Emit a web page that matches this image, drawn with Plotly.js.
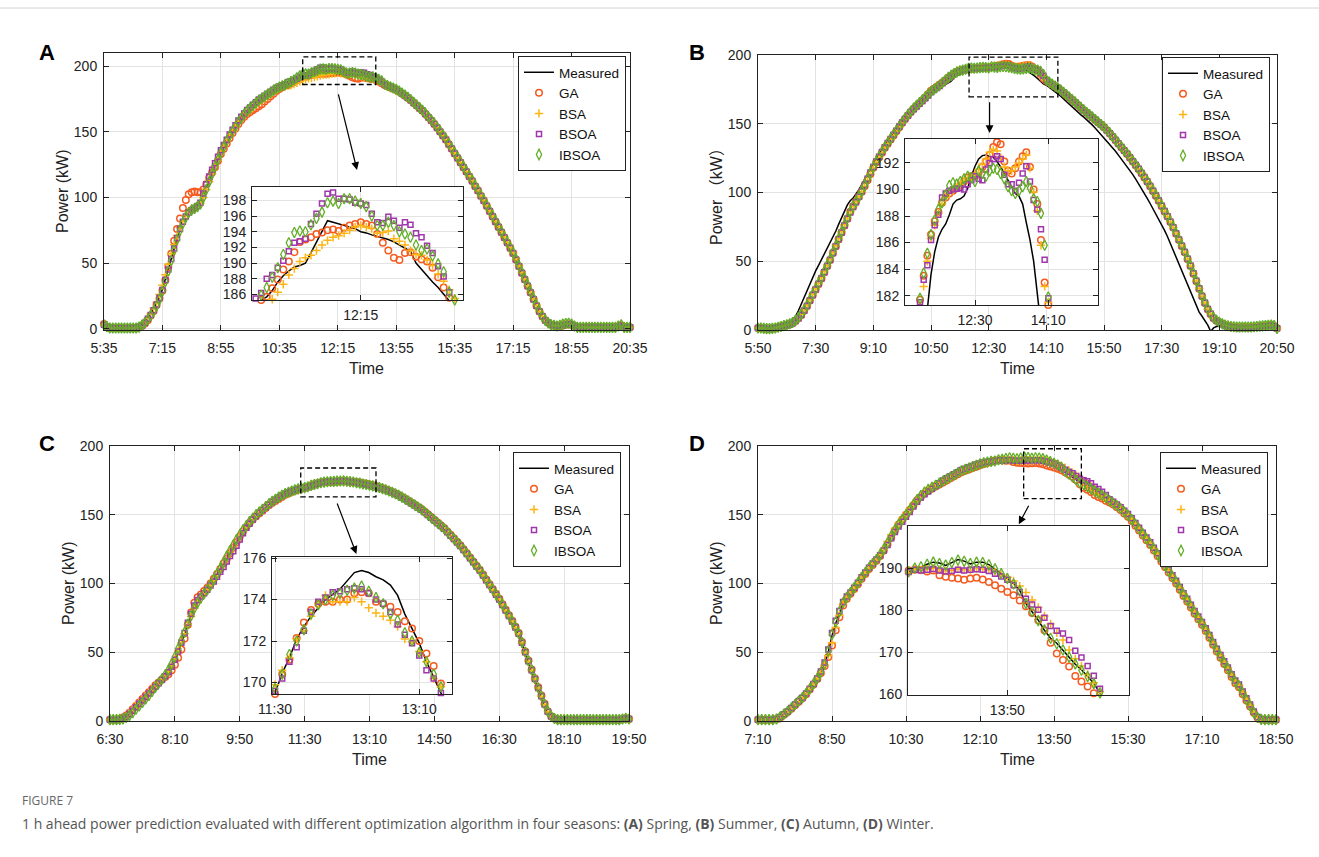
<!DOCTYPE html>
<html><head><meta charset="utf-8">
<script src="https://cdn.plot.ly/plotly-3.0.1.min.js"></script>
<style>html,body{margin:0;padding:0;background:#fff;}#chart{width:1319px;height:857px;}</style>
</head><body><div id="chart"></div>
<script>
// ---------- DATA (5-min samples) ----------
const A_start = '5:35', B_start = '5:50', C_start = '6:30', D_start = '7:10';
const A_ticks = ['5:35','7:15','8:55','10:35','12:15','13:55','15:35','17:15','18:55','20:35'];
const B_ticks = ['5:50','7:30','9:10','10:50','12:30','14:10','15:50','17:30','19:10','20:50'];
const C_ticks = ['6:30','8:10','9:50','11:30','13:10','14:50','16:30','18:10','19:50'];
const D_ticks = ['7:10','8:50','10:30','12:10','13:50','15:30','17:10','18:50'];
const A_insetTicks = ['12:15'];
const B_insetTicks = ['12:30','14:10'];
const C_insetTicks = ['11:30','13:10'];
const D_insetTicks = ['13:50'];
const main_yTicks = [0,50,100,150,200];
const A_inset_yTicks = [186,188,190,192,194,196,198];
const B_inset_yTicks = [182,184,186,188,190,192];
const C_inset_yTicks = [170,172,174,176];
const D_inset_yTicks = [160,170,180,190];

const A_meas = [3,1.5,0.5,0.5,0.5,0.5,0.5,0.5,0.5,0.5,
0.5,0.5,1.5,3,5,8,11,15,19,24,
30,38,46,54,62,70,78,84,88,91,
92,93,95,97,102,108,114,119,124,129,
134,138,142,146,150,153,157,160,163,165,
167,169,171,173,174.5,176,177.5,179,180.5,182,
183.5,184.5,185.3,185.7,186.5,187.6,188.4,189,189.5,189.7,
190,191.3,192.7,194,195.4,195.2,195,194.8,194.6,194.4,
194,193.85,193.6,193.4,193.2,193,192.7,192.3,192,191.5,
190,189.2,188.3,187.6,186.9,186.1,185.4,184.5,183.5,182.5,
181.5,180,178.5,177,175.5,173.5,171.5,169.5,167.5,165.5,
163,160.5,158,155.5,152.5,149.5,146.5,143.5,140,136.5,
133,129.5,126,122.5,119,115.5,112,108,104.5,100.5,
97,93,89,85,81,77,73,69,65,61,
57,52,47,42,37,32,27,22,17,12.5,
9,6,4,3,2.5,2,2,2.5,3,3.5,
3,2,1,1,1,1,1,1,1,1,
1,1,1,1,1,1,2,3,1,1,1];
const A_GA = [3.5,1.5,0.8,0.5,0.5,0.5,0.5,0.5,0.5,0.5,
0.5,0.5,1,2,4,6.5,10,13.5,18,23,
29,37,47,57,67,76,84,92,98,102.5,
104,104.5,104,104,106,110,115,119,123,128,
133,137,141,145,149,152.5,156,159,161.5,163.5,
165,166.5,168,169.5,171,173,175,177,179,181,
182.5,184,185.3,185.7,186.8,187.9,189.2,190.2,191.4,192.7,
193,193.3,193.7,193.9,194.2,194.3,194.1,194.5,194.8,195,
195.2,195,194.8,193.7,192.6,191.6,190.7,190.4,191.3,191.4,
190.8,190.5,190.2,189.4,188.2,186.9,185.6,184.6,183.8,182.8,
181.8,180.5,179,177.5,175.8,174,172,170,168,166,
163.5,161,158.5,156,153,150,147,144,140.5,137,
133.5,130,126.5,123,119.5,116,112.5,108.5,105,101,
97.5,93.5,89.5,85.5,81.5,77.5,73.5,69.5,65.5,61.5,
57.5,52.5,47.5,42.5,37.5,32.5,27.5,22.5,17.5,13,
9.5,6.5,4.5,3,2.5,2,2,2.5,3,3.5,
3,2,1,1,1,1,1,1,1,1,
1,1,1,1,1,1,1.5,2.5,1,1,1];
const A_BSA = [3,1.5,0.5,0.5,0.5,0.5,0.5,0.5,0.5,0.5,
0.5,0.5,1.5,3,5,8,11.5,15.5,20,26,
33,41,49,57,64,71,77,82,86,89,
91,92,93.5,95.5,100,106,112,118,123.5,128.5,
133.5,138,142,146,150,153.5,157,160,162.5,164.5,
166.5,168.5,170.5,172.5,174,175.5,177,178.5,180,181.5,
183,184,184.8,185,185.4,186.3,187.3,188.5,189.3,190.2,
190.7,191,191.6,192.3,192.9,193.3,193.5,193.8,194.2,194.6,
194.8,194.6,194.4,193.8,193.9,194.1,193.1,192.8,192.3,191.6,
191.1,191,190.4,189.7,188.6,187.7,186.6,185.5,184.4,183.3,
182.2,180.8,179.3,177.8,176.2,174.3,172.3,170.3,168.3,166.3,
163.8,161.3,158.8,156.3,153.3,150.3,147.3,144.3,140.8,137.3,
133.8,130.3,126.8,123.3,119.8,116.3,112.8,108.8,105.3,101.3,
97.8,93.8,89.8,85.8,81.8,77.8,73.8,69.8,65.8,61.8,
57.8,52.8,47.8,42.8,37.8,32.8,27.8,22.8,17.8,13.3,
9.5,6.5,4.5,3.2,2.5,2,2,2.5,3,3.5,
3,2,1,1,1,1,1,1,1,1,
1,1,1,1,1,1,1.5,2.5,1,1,1];
const A_BSOA = [3,1.5,0.5,0.5,0.5,0.5,0.5,0.5,0.5,0.5,
0.5,0.5,1.5,2.5,4.5,7.5,10.5,14,18.5,23.5,
29.5,37,45,53,61,69,76,81.5,85.5,88.5,
90.5,92,93.5,96,103,110,116,121,126,131,
136,140,144,148,151.5,155,158.5,161.5,164,166.5,
168.5,170.5,172.5,174.5,176,177.5,179,180.5,182,183.5,
184.5,185.5,186.2,188,188.5,189.4,190.3,191.5,192.6,192.8,
193.1,195,196.3,197.6,198.85,199,198.2,198.2,198.1,197.7,
197.6,197.4,196.3,195.2,195.1,195.9,195.4,194.5,195.2,194.9,
193.8,193.3,192.2,191.3,189.6,188.3,186.3,185.2,184.2,183.2,
182.2,180.8,179.3,177.6,176,174,172,170,168,166,
163.5,161,158.5,156,153,150,147,144,140.5,137,
133.5,130,126.5,123,119.5,116,112.5,108.5,105,101,
97.5,93.5,89.5,85.5,81.5,77.5,73.5,69.5,65.5,61.5,
57.5,52.5,47.5,42.5,37.5,32.5,27.5,22.5,17.5,13,
9.5,6.5,4.5,3,2.5,2,2,2.5,3,3.5,
3,2,1,1,1,1,1,1,1,1,
1,1,1,1,1,1,1.5,2.5,1,1,1];
const A_IBSOA = [3,1.5,0.5,0.5,0.5,0.5,0.5,0.5,0.5,0.5,
0.5,0.5,1.2,2.5,4.5,7,10,13.5,17.5,22.5,
28.5,36,44,52,60,68,75,80.5,85,88.5,
90.5,91.5,93,95,100,106,112,118,123.5,129,
134,138.5,143,147,150.5,154,157.5,160.5,163.5,166,
168,170,172,174,175.5,177,178.5,180,181.5,183,
184,185,185.9,186.9,188.2,189.4,191.1,192.6,193.9,194.1,
194,194.9,195.7,196.5,197.7,197.9,197.6,198.2,198.2,197.9,
197.6,197.2,196,194.8,194.8,195.2,194.8,194,193.7,193.3,
192.3,191.6,191.8,190.9,189.9,188.9,186.3,185.3,184.3,183.3,
182.3,181,179.5,178,176.3,174.4,172.4,170.4,168.4,166.4,
164,161.5,159,156.5,153.5,150.5,147.5,144.5,141,137.5,
134,130.5,127,123.5,120,116.5,113,109,105.5,101.5,
98,94,90,86,82,78,74,70,66,62,
58,53,48,43,38,33,28,23,18,13.5,
9.5,6.5,4.5,3,2.5,2,2.5,3.5,4,4.2,
3.5,2,1,1,1,1,1,1,1,1,
1,1,1,1,1,1,2,3,1,1,1];

const B_meas = [1.5,1.5,1.2,1,1,1.2,1.5,2,2.5,3.5,
4.5,5.5,7.5,10,14,19,24,29,34,39,
43,47,51,55,59,63,68,72,77,82,
87,91,94,96,99,102,106,110,114,118,
122,125,128,131,134,137,140,143,146,149,
152,154.5,157,159,161,163,165,167,169,170.5,
172,173.5,175,176.5,177.5,178.5,179.5,181,183.6,185.3,
186.4,187,187.4,188.1,188.9,189.2,189.3,189.5,190.1,191,
191.75,192.3,192.55,192.6,192.5,192.4,192.1,191.7,191.2,190.7,
190.2,189.7,189.5,188.9,187.5,186.2,184.6,182.8,180.5,179,
178,176.5,175,173.5,171.5,170,168,166,164,162,
160,158.2,156.5,154.8,153,151,149,146.8,144.5,142.2,
140,137.5,135,132.5,130,127.2,124.5,121.8,119,116,
113,109.8,106.5,103,99.5,95.8,92,88.2,84.5,80.8,
77,72.5,68,63,58,52.5,47,42,37,32,
27,22,17,13,10,7,3.5,-1,1.5,2.5,
3,3,3,2.8,2.6,2.5,2.5,2.5,2.5,2.5,
2.5,2.5,2.5,2.5,2.5,3,3,3,3.5,3,1.2];
const B_GA = [1.5,1.5,1.2,1,1,1.2,1.5,2,2.5,3,
3.5,4,5,6.5,8.5,11,14,17.5,21.5,25.5,
29.5,33.5,37.5,42,46.5,51,56,61,66,71,
76,81,86,90,93.5,97,100.5,104.5,109,113.5,
118,122,125.5,129,132.5,135.5,138.5,141.5,144.5,147.5,
150.5,153.5,156,158.5,161,163,165,167,169,171.5,
174,175.5,177,178.5,180,181.7,183.5,185,186.6,187.6,
188.3,189,189.4,189.7,189.9,190.1,190.3,190.6,190.9,191,
191,191.3,191.7,192.1,192.6,193.2,193.55,193.4,192.1,191.4,
191.2,191.6,192.1,192.5,192.8,191.7,190,188.9,186.2,183,
181.3,180,178.5,177.3,176,174.3,172.5,170.8,169,167.2,
165.5,163.5,161.5,159.8,158,156.2,154.5,152.8,151,149.2,
147.5,145.2,143,140.5,138,135.5,133,130.5,128,125.2,
122.5,119.8,117,114,111,107.8,104.5,101,97.5,93.8,
90,86.2,82.5,78.5,74.5,70,65.5,61,56.5,51.5,
46.5,41,35.5,30,24.5,19.5,15,11.5,8.5,6.8,
5.5,4.5,3.5,3,2.5,2.2,2,2,2,2,
2,2,2.2,2.5,2.5,2.8,3,3.2,3.5,3,1.2];
const B_BSA = [1.5,1.5,1.2,1,1,1.2,1.5,2,2.5,3,
3.5,4.2,5.2,6.8,9,11.5,14.5,18,22,26,
30,34,38,42.5,47,51.5,56.5,61.5,66.5,71.5,
76.5,81.5,86,90,93.5,97,100.5,104.5,109,113.5,
118,122,125.5,129,132.5,135.5,138.5,141.5,144.5,147.5,
150.5,153.5,156,158.5,161,163,165,167,169,171,
173.5,175,176.5,178,179.5,181,182.7,184.6,186.3,187.3,
188.2,188.9,189.4,189.7,189.9,190.1,190.4,190.6,190.8,190.9,
191.1,191.5,191.9,192.3,192.8,193,192.9,192.4,191.7,191.4,
191.4,191.7,192,192.3,192.6,191.6,189.8,188.4,185.8,182.7,
181.5,180,178.6,177.4,176,174.4,172.6,170.9,169.1,167.3,
165.5,163.6,161.6,159.8,158,156.3,154.6,152.9,151.1,149.3,
147.5,145.3,143.1,140.6,138.1,135.6,133.1,130.6,128.1,125.3,
122.6,119.9,117.1,114.1,111.1,107.9,104.6,101.1,97.6,93.9,
90.1,86.3,82.6,78.6,74.6,70.1,65.6,61.1,56.6,51.6,
46.6,41.1,35.6,30.1,24.6,19.6,15.1,11.6,8.6,6.9,
5.5,4.5,3.5,3,2.5,2.2,2,2,2,2,
2,2,2.2,2.5,2.5,2.8,3,3.2,3.5,3,1.2];
const B_BSOA = [1.5,1.5,1.2,1,1,1.2,1.5,2,2.5,3,
3.5,4,5,6.5,8.5,11,14,17.5,21.5,25.5,
29.5,33.5,37.5,42,46.5,51,56,61,66,71,
76,81,85.5,89.5,93,97,101,105.5,110,114.5,
118.5,122.5,126,129.5,133,136,139,142,145,148,
151,153.5,156,158.5,160.5,162.5,164.5,166.5,168.5,170.5,
173,174.5,176,177.5,179.5,181.5,183.2,184.3,186.2,187.3,
188.1,189.4,189.7,189.9,190,190.05,190.1,190,190.4,190.7,
191,190.8,190.7,191.5,192,192.3,192.5,192.3,191.1,190.4,
190.4,189.9,190.5,191.2,191.75,190.6,189.2,188.5,187,184.7,
181.8,180.2,178.8,177.4,176,174.3,172.6,170.9,169.1,167.3,
165.5,163.6,161.6,159.8,158,156.3,154.6,152.9,151.1,149.3,
147.5,145.3,143.1,140.6,138.1,135.6,133.1,130.6,128.1,125.5,
122.8,120,117.2,114.2,111.2,108,104.8,101.3,97.8,94.2,
90.4,86.6,82.8,78.8,74.8,70.3,65.8,61.3,56.8,51.8,
46.8,41.3,35.8,30.3,24.8,19.8,15.3,11.8,8.8,7,
5.5,4.2,3,2.5,2,1.8,1.5,1.5,1.5,1.5,
1.5,1.5,1.8,2,2.2,2.5,2.8,3,3.2,2.8,1.2];
const B_IBSOA = [1.5,1.5,1.2,1,1,1.2,1.5,2,2.5,3.2,
3.8,4.5,5.5,7,9,11.5,14.5,18,22,26,
30,34,38,42.5,47,51.5,56.5,61.5,66.5,71.5,
76.5,81.5,86,90,93.5,97,101,105,109.5,114,
118.5,122.5,126,129.5,133,136,139,142,145,148,
151,154,156.5,159,161.5,163.5,165.5,167.5,169.5,171.5,
173.5,175,176.5,178,180,181.8,183.7,185.2,186.6,187.7,
188.5,189,189.6,190.3,190.5,190.4,190.6,190.8,191,190.9,
190.6,191.4,191.2,191,191.4,191.6,191.5,191.2,190.8,190.2,
189.9,189.7,189.9,190.2,190.6,190.1,189.3,189.1,188.2,185.8,
181.9,180.3,178.9,177.5,176.1,174.5,172.8,171.1,169.3,167.5,
165.7,163.8,161.8,160,158.2,156.5,154.8,153.1,151.3,149.5,
147.7,145.5,143.3,140.8,138.3,135.8,133.3,130.8,128.3,125.6,
122.9,120.2,117.4,114.4,111.4,108.2,104.9,101.4,97.9,94.2,
90.4,86.6,82.9,78.9,74.9,70.4,65.9,61.4,56.9,51.9,
46.9,41.4,35.9,30.4,24.9,19.9,15.4,11.9,8.9,7.1,
5.6,4.6,3.6,3.1,2.6,2.4,2.2,2.2,2.2,2.2,
2.2,2.2,2.4,2.6,2.8,3,3.2,3.4,3.6,3.2,1.2];

const C_meas = [1,1,1,1.5,2,3.5,5.5,8,10.5,13,
15.5,18,20.5,23,25.5,27,29.5,32,35,39,
43.5,49.5,56,63,71,77,83,87,90,93,
96,99,103,107,111,115,119,123,127,131,
135,138.5,141.5,144,146.5,149,151,153,155,157,
159,160.5,162,163.5,165,166,167,167.8,168.5,169,
169.5,170.45,171.2,172.1,172.7,173.2,173.6,174,174.25,174.5,
174.9,175.3,175.4,175.3,175.1,174.95,174.7,174.2,173.3,172.6,
171.9,171,170.3,169.6,168.8,168,167,166,165,163.8,
162.5,161,159.5,158,156.5,155,153.5,151.5,149.5,147.5,
145.5,143.5,141.5,139.5,137,134.5,132,129.5,127,124,
121,118,115,112,109,105.5,102,98.5,95,91.5,
88,84,80,76,72,67.5,63,56,49,42.5,
36,29.5,23,17,11,6,3,1.5,1,1,
1,1,1,1,1,1,1,1,1,1,
1,1,1,1,1,1,1,1,1.5,2,1.5];
const C_GA = [1,1,1,1.5,2.5,4,6,8.5,11,13.5,
16,18.5,21,23.5,26,28,30,32,34,37,
41,46,52,60,70,79,86,90,92,94.5,
97,100,103.5,107,110.5,114.5,118,122,126,130,
134,138,141,144,146.5,149,151,153,155,157,
158.5,160,161.5,163,164.5,165.5,166.5,167.5,168.3,169,
169.45,170.4,171.1,172.15,172.9,173.5,173.8,173.9,173.9,174,
174,174.3,174.35,174.3,173.9,173.8,173.65,173.4,172.95,172.6,
172,171.4,170.8,169.95,169.2,168.4,167.5,166.5,165.5,164.3,
163,161.6,160.2,158.7,157.2,155.7,154.2,152.3,150.3,148.3,
146.3,144.3,142.3,140.3,137.9,135.4,132.9,130.4,127.9,125,
122,119,116,113,110,106.5,103,99.5,96,92.5,
89,85,81,77,73,68.5,64,57.5,50.5,44,
37.5,31,24.5,18.5,12.5,7,3.5,1.8,1,1,
1,1,1,1,1,1,1,1,1,1,
1,1,1,1,1,1,1,1,1.5,2,1.5];
const C_BSA = [1,1,1,1.5,2,3.5,5.5,8,10.5,13,
15.5,18,20.5,23,25.5,28,30.5,33,36,40,
45,51,57,63.5,70,76,82,86,89.5,92.5,
95.5,99,102.5,106.5,110.5,114.5,118.5,122.5,126.5,130.5,
134.5,138,141,144,146.5,149,151,153,155,157,
159,160.5,162,163.5,165,166,167,168,168.8,169.3,
169.9,170.6,171.2,172.1,172.5,173.2,173.8,174.2,173.9,173.9,
173.9,174.1,173.9,173.6,173.35,173.2,173,172.7,172.1,171.95,
171.5,171,170.2,169.8,169,168.2,167.3,166.3,165.3,164.1,
162.8,161.4,160,158.5,157,155.5,154,152,150,148,
146,144,142,140,137.6,135.1,132.6,130.1,127.6,124.7,
121.7,118.7,115.7,112.7,109.7,106.2,102.7,99.2,95.7,92.2,
88.7,84.7,80.7,76.7,72.7,68.2,63.7,57,50,43.5,
37,30.5,24,18,12,6.8,3.4,1.8,1,1,
1,1,1,1,1,1,1,1,1,1,
1,1,1,1,1,1,1,1,1.5,2,1.5];
const C_BSOA = [1,1,1,1.2,1.8,3,5,7.5,10,12.5,
15,17.5,20,22.5,25,27.5,30,32.5,35.5,39.5,
44.5,50.5,57,64,71.5,78,84,88,90.5,93,
95.5,98.5,101.5,105,108.5,112,116,120,123.5,127.5,
132,136.5,140.5,143.5,146.5,149,151.5,153.5,155.5,157.5,
159.5,161,162.5,164,165.2,166.2,167.2,168,168.7,169.2,
169.6,170.2,171,171.7,172.5,173.4,173.9,174.1,174.35,174.4,
174.5,174.55,174.5,174.3,174,173.8,173.4,172.8,172.3,171.9,
171.3,170.6,170.2,169.5,168.8,168,167.1,166.1,165.1,163.9,
162.6,161.2,159.7,158.2,156.7,155.2,153.7,151.8,149.8,147.8,
145.8,143.8,141.8,139.8,137.3,134.8,132.3,129.8,127.3,124.4,
121.4,118.4,115.4,112.4,109.4,105.9,102.4,98.9,95.4,91.9,
88.4,84.4,80.4,76.4,72.4,68,63.5,57,50,43.5,
37,30.5,24,18,12,6.8,3.4,1.8,1,1,
1,1,1,1,1,1,1,1,1,1,
1,1,1,1,1,1,1,1,1.5,2,1.5];
const C_IBSOA = [1,1,1,1.2,1.5,2.5,4,6,8.5,11,
13.5,16,18.5,21.5,24.5,27.5,30.5,33.5,37,41.5,
46.5,52.5,58.5,64.5,70.5,76.5,82,86,89.5,92.5,
95.5,99,103,107,111,115.5,120,124,128,132,
135.5,139,142,145,147.5,150,152,154,156,158,
159.8,161.3,162.8,164.2,165.4,166.4,167.3,168.1,168.8,169.3,
169.7,170.4,171.35,172,172.55,173.3,173.75,174,174.2,174.3,
174.45,174.55,174.65,174.4,174.1,173.8,173.3,173,172.4,172,
171.45,171,170.4,169.8,169,168.2,167.3,166.3,165.3,164.1,
162.8,161.4,160,158.5,157,155.5,154,152,150,148,
146,144,142,140,137.6,135.1,132.6,130.1,127.6,124.7,
121.7,118.7,115.7,112.7,109.7,106.2,102.7,99.2,95.7,92.2,
88.7,84.7,80.7,76.7,72.7,68.2,63.7,57.2,50.2,43.7,
37.2,30.7,24.2,18.2,12.2,7,3.5,1.8,1,1,
1,1,1,1,1,1,1,1,1,1,
1,1,1,1,1,1,1,1,1.5,2,1.5];

const D_meas = [1,1,1,1,1,1.5,3,5,7,9.5,
12,14.5,17,20,23.5,27,31,35.5,41,50,
62,71,79,86,90,93,96.5,100,104,107.5,
111,114,117,120.5,124.5,129,134,138.5,142.5,146,
149.5,153,157,160.5,163.5,166,168,169.5,171,172.5,
174,175.5,177,178.5,180,181.5,182.5,183.5,184.5,185.5,
186.5,187.3,188,188.6,189.05,190,190.2,190.9,191.4,191.2,
190.6,191.3,192,191.65,191,191.4,191.4,190.8,189.8,188.65,
187.5,186.3,184.7,181.55,179.6,177.6,175.2,173.3,172.1,170.5,
168.9,167.1,165.8,164.2,162.6,160.2,158.5,156.5,154.5,152,
149.5,146.5,143,139.5,136,132.5,129,125,121,117,
113,109,105,101,96.5,92,88,83.5,79,75,
71,66.5,61.5,56.5,51.5,47,42.5,38,33,28.5,
25.5,20.5,15.5,11,6,2.5,1.2,1,1,1,1];
const D_GA = [1,1,1,1,1,1.2,2.5,4.5,6.5,9,
11.5,14,16.5,19.5,23,26.5,30.5,35,40,46.5,
55,66,75.5,84,89,92.5,96,99.5,103.5,107,
110.5,113.5,116.5,120,124,128.5,133.5,138.5,143,146.5,
150,153.5,157,160.5,163,165.5,167.5,169,170.5,172,
173.5,175,176.5,178,179.5,181,182,183,184,185,
186,187,187.8,188.5,189.4,189.6,189.6,189.2,189.4,188.3,
187.9,187.7,187.5,187.2,187.5,187.7,187.3,186.7,185.9,185.1,
184.3,183.5,182.3,180.9,179.3,177.6,175.2,172.2,169.7,168.1,
166.6,164.3,163,161.8,160.2,159,157.5,155.5,153.5,151,
148.5,145.5,142,138.5,135,131.5,128,124,120,116,
112,108,104,100,95.5,91,87,82.5,78,74,
70,65.5,60.5,55.5,50.5,46,41.5,37,32,27.5,
24.5,19.5,15,10.5,6,2.5,1.2,1,1,1,1];
const D_BSA = [1,1,1,1,1,1.2,2.5,4.5,6.5,9,
11.5,14,16.5,19.5,23,26.5,30.5,35,40.5,47.5,
57,68,77,85,89.5,93,96.5,100,104,107.5,
111,114,117,121,125.5,130.5,135.5,140,144,147.5,
151,154.5,158,161,164,166.5,168.5,170,171.5,173,
174.5,176,177.5,179,180.5,182,183,184,185,186,
186.8,187.5,188.1,188.6,188.8,189.7,189.5,189.7,189.9,189.6,
189.3,189.4,189.8,189.6,189.5,189.9,189.8,189.6,189,188.4,
187.8,186.9,185.7,184.2,182.4,180.6,178.6,176.7,174.6,172.9,
170.5,168.4,166.7,164.7,162.7,160.6,159,157,155,152.5,
150,147,143.5,140,136.5,133,129.5,125.5,121.5,117.5,
113.5,109.5,105.5,101.5,97,92.5,88.5,84,79.5,75.5,
71.5,67,62,57,52,47.5,43,38.5,33.5,29,
26,21,16,11.5,6.5,2.8,1.2,1,1,1,1];
const D_BSOA = [1,1,1,1,1,1.5,3,5,7,9.5,
12,14.5,17,20,23.5,27,31,36,42.5,52,
64,73,80,86.5,90.5,93.5,97,100.5,104.5,108,
111.5,114.5,117.5,120.5,124,128,133,137.5,141.5,145,
148.5,152,156,159.5,162.5,165,167,169,171,173,
175,176.5,178,179.5,181,182.5,183.5,184.5,185.5,186.5,
187.3,188,188.5,188.8,189.05,189.6,189.4,189.6,189.8,189.4,
189.2,189.3,189.6,189.4,189.6,189.7,189.6,189.3,188.65,188,
187.2,185.9,184.3,182.7,181.3,180.1,178.2,176.2,175.1,174.4,
172.9,170.3,168.7,166.7,164.4,161.3,159.5,157.5,155.5,153,
150.5,147.5,144,140.5,137,133.5,130,126,122,118,
114,110,106,102,97.5,93,89,84.5,80,76,
72,67.5,62.5,57.5,52.5,48,43.5,39,34,29.5,
26.5,21.5,16.5,12,7,3,1.2,1,1,1,1];
const D_IBSOA = [1,1,1,1,1,1.5,3,5,7,9.5,
12,14.5,17,20,23.5,27,31,35.5,41.5,51,
63,72,79.5,86,90,93.5,97,100.5,104.5,108,
111.5,114.5,117.5,121,125,129.5,134.5,139,143,146.5,
150,153.5,157.5,161,164,166.5,168.5,170,171.5,173,
174.5,176,177.5,179,180.5,182,183,184,185,186,
187,187.8,188.3,188.8,189.1,190,190.3,190.9,191.4,191.1,
190.7,191.3,191.9,191.6,191.1,191.4,191.3,190.8,189.8,188.7,
187.5,186.2,184.6,181.6,179.6,177.5,175.3,173.3,172,170.5,
168.8,167.2,165.7,164.2,162.5,160.3,158.6,156.6,154.6,152.1,
149.6,146.6,143.1,139.6,136.1,132.6,129.1,125.1,121.1,117.1,
113.1,109.1,105.1,101.1,96.6,92.1,88.1,83.6,79.1,75.1,
71.1,66.6,61.6,56.6,51.6,47.1,42.6,38.1,33.1,28.6,
25.6,20.6,15.6,11.1,6.1,2.5,1.2,1,1,1,1];

// ---------- STYLE / LAYOUT ----------
const W = 1319, H = 857;
const FONT = 'Liberation Sans, Arial, Helvetica, sans-serif';
const AX = '#222222', GRID = '#e3e3e3';
function toMin(s){ const p = s.split(':').map(Number); return p[0]*60 + p[1]; }
function times(start, n){ const t0 = toMin(start); return Array.from({length:n}, (_, i) => t0 + 5*i); }
const px = v => v / W, py = v => 1 - v / H;

const SERIES = [
  {name:'Measured', mode:'lines', line:{color:'#000000', width:1.5}},
  {name:'GA', mode:'markers', marker:{symbol:'circle-open', size:6.5, color:'#F55A1E', line:{width:1.5, color:'#F55A1E'}}},
  {name:'BSA', mode:'markers', marker:{symbol:'cross-thin-open', size:6, color:'#FDB515', line:{width:1.5, color:'#FDB515'}}},
  {name:'BSOA', mode:'markers', marker:{symbol:'square-open', size:5, color:'#9F36AC', line:{width:1.5, color:'#9F36AC'}}},
  {name:'IBSOA', mode:'markers', marker:{symbol:'diamond-tall-open', size:7.5, color:'#63AD28', line:{width:1.3, color:'#63AD28'}}}
];

const panels = [
  {start:A_start, data:[A_meas,A_GA,A_BSA,A_BSOA,A_IBSOA], ticks:A_ticks, yr:[-1,210],
   box:[104,630,53,330], inset:[252,463,187,300], ixr:[636.7,827.5], iyr:[185.3,199.7],
   iticks:A_insetTicks, iyt:A_inset_yTicks, legend:[626,56]},
  {start:B_start, data:[B_meas,B_GA,B_BSA,B_BSOA,B_IBSOA], ticks:B_ticks, yr:[0,200],
   box:[758,1277,55,330], inset:[905,1098,139,305], ixr:[654.5,917.8], iyr:[181.3,193.8],
   iticks:B_insetTicks, iyt:B_inset_yTicks, legend:[1270,57]},
  {start:C_start, data:[C_meas,C_GA,C_BSA,C_BSOA,C_IBSOA], ticks:C_ticks, yr:[0,200],
   box:[110,629,446,721], inset:[272,452,557,694], ixr:[687.9,812.7], iyr:[169.45,176.05],
   iticks:C_insetTicks, iyt:C_inset_yTicks, legend:[621,452]},
  {start:D_start, data:[D_meas,D_GA,D_BSA,D_BSOA,D_IBSOA], ticks:D_ticks, yr:[0,200],
   box:[758,1276,446,721], inset:[908,1129,526,695], ixr:[749.5,928.5], iyr:[159.8,200],
   iticks:D_insetTicks, iyt:D_inset_yTicks, legend:[1268,452]}
];

// callouts: dashed zoom boxes and arrows (data coords of each main axes)
const zoomBoxes = [[675,800,186,207],[716,870,169.5,198.5],[684,800,163,184],[789,867,161.7,198]];
const arrows = [[735.4,179.6,767.9,120.9],[751.6,166.8,751.6,143.3],[739.3,159.3,769.8,121.5],[796.8,157.6,782.4,143.1]];

const traces = [];
const layout = {
  width:W, height:H, margin:{l:0,r:0,t:0,b:0}, paper_bgcolor:'#ffffff', plot_bgcolor:'#ffffff',
  font:{family:FONT, size:14, color:AX}, showlegend:true, annotations:[], shapes:[]
};

function axisCommon(standoff){
  return {showline:true, mirror:'ticks', linecolor:AX, linewidth:1, ticks:'inside', ticklen:5,
          tickwidth:1, tickcolor:AX, showgrid:true, gridcolor:GRID, gridwidth:1, zeroline:false,
          tickfont:{family:FONT, size:14, color:AX}, fixedrange:true, ticklabelstandoff:standoff};
}

panels.forEach((p, i) => {
  const n = i + 1, ni = i + 5;
  const x = times(p.start, p.data[0].length);
  const xn = n === 1 ? 'x' : 'x' + n, yn = n === 1 ? 'y' : 'y' + n;
  const xi = 'x' + ni, yi = 'y' + ni;
  const lg = n === 1 ? 'legend' : 'legend' + n;
  const tv = p.ticks.map(toMin);
  layout[n === 1 ? 'xaxis' : 'xaxis' + n] = Object.assign(axisCommon(5), {
    domain:[px(p.box[0]), px(p.box[1])], anchor:yn, range:[tv[0], tv[tv.length-1]],
    tickmode:'array', tickvals:tv, ticktext:p.ticks});
  layout[n === 1 ? 'yaxis' : 'yaxis' + n] = Object.assign(axisCommon(3), {
    domain:[py(p.box[3]), py(p.box[2])], anchor:xn, range:p.yr, tickmode:'array', tickvals:main_yTicks});
  const itv = p.iticks.map(toMin);
  layout['xaxis' + ni] = Object.assign(axisCommon(2), {
    domain:[px(p.inset[0]), px(p.inset[1])], anchor:yi, range:p.ixr,
    tickmode:'array', tickvals:itv, ticktext:p.iticks});
  layout['yaxis' + ni] = Object.assign(axisCommon(2), {
    domain:[py(p.inset[3]), py(p.inset[2])], anchor:xi, range:p.iyr, tickmode:'array', tickvals:p.iyt});
  SERIES.forEach((s, k) => {
    const base = {x:x, y:p.data[k], name:s.name, mode:s.mode, cliponaxis:false, hoverinfo:'skip'};
    if (s.line) base.line = s.line;
    if (s.marker) base.marker = s.marker;
    traces.push(Object.assign({}, base, {xaxis:xn, yaxis:yn, legend:lg, showlegend:true}));
  });
  SERIES.forEach((s, k) => {
    const base = {x:x, y:p.data[k], name:s.name, mode:s.mode, cliponaxis:false, hoverinfo:'skip'};
    if (s.line) base.line = s.line;
    if (s.marker) base.marker = s.marker;
    traces.push(Object.assign({}, base, {xaxis:xi, yaxis:yi, showlegend:false}));
  });
  layout[lg] = {x:px(p.legend[0]), xanchor:'right', y:py(p.legend[1]), yanchor:'top',
    bgcolor:'#ffffff', bordercolor:AX, borderwidth:1, font:{family:FONT, size:13.5, color:'#111'},
    tracegroupgap:0, itemwidth:30};
  const b = zoomBoxes[i];
  layout.shapes.push({type:'rect', xref:xn, yref:yn, x0:b[0], x1:b[1], y0:b[2], y1:b[3],
    line:{color:'#000', width:1.3, dash:'5px,3px'}, layer:'above'});
  const a = arrows[i];
  layout.annotations.push({xref:xn, yref:yn, axref:xn, ayref:yn, ax:a[0], ay:a[1], x:a[2], y:a[3],
    text:'', showarrow:true, arrowhead:2, arrowsize:1.3, arrowwidth:1.2, arrowcolor:'#000'});
  const cx = (p.box[0] + p.box[1]) / 2;
  layout.annotations.push({xref:'paper', yref:'paper', x:px(cx), y:py(p.box[3] + 38), text:'Time',
    showarrow:false, font:{family:FONT, size:16, color:AX}, xanchor:'center', yanchor:'middle'});
});

const yTitles = [['Power (kW)',62,191],['Power （kW）',716,193],['Power (kW)',68,583],['Power (kW)',716,583]];
yTitles.forEach(t => layout.annotations.push({xref:'paper', yref:'paper', x:px(t[1]), y:py(t[2]), text:t[0],
  textangle:-90, showarrow:false, font:{family:FONT + ', Noto Sans CJK SC', size:16, color:AX}, xanchor:'center', yanchor:'middle'}));
const letters = [['A',47,52],['B',697,52],['C',47,443],['D',697,443]];
letters.forEach(t => layout.annotations.push({xref:'paper', yref:'paper', x:px(t[1]), y:py(t[2]), text:'<b>'+t[0]+'</b>',
  showarrow:false, font:{family:FONT, size:22, color:'#000'}, xanchor:'center', yanchor:'middle'}));

layout.annotations.push({xref:'paper', yref:'paper', x:px(20), y:py(800), xanchor:'left', yanchor:'middle',
  text:'FIGURE 7', showarrow:false, font:{family:'Open Sans, Noto Sans, sans-serif', size:12, color:'#666'}});
layout.annotations.push({xref:'paper', yref:'paper', x:px(20), y:py(823), xanchor:'left', yanchor:'middle',
  text:'1 h ahead power prediction evaluated with different optimization algorithm in four seasons: <b>(A)</b> Spring, <b>(B)</b> Summer, <b>(C)</b> Autumn, <b>(D)</b> Winter.',
  showarrow:false, font:{family:'Open Sans, Noto Sans, sans-serif', size:14, color:'#555'}});
layout.shapes.push({type:'line', xref:'paper', yref:'paper', x0:0, x1:1, y0:py(8), y1:py(8), line:{color:'#d4d4d4', width:1}});

Plotly.newPlot('chart', traces, layout, {staticPlot:true, displayModeBar:false});
</script>
</body></html>
